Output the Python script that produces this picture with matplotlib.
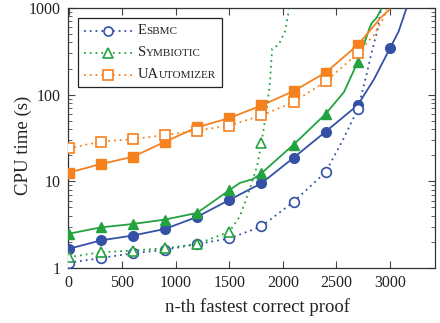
import matplotlib
matplotlib.use('Agg')
import matplotlib.pyplot as plt
from matplotlib.lines import Line2D
from matplotlib.ticker import LogLocator, NullFormatter
from matplotlib.offsetbox import AnchoredOffsetbox, HPacker, VPacker, TextArea, DrawingArea

plt.rcParams['font.family'] = ['Liberation Serif', 'DejaVu Serif']

# values (x = n-th proof, y = CPU time in s)
esbmc_x = [0, 300, 600, 900, 1200, 1500, 1800, 2100, 2400, 2700, 2850, 3000, 3080, 3150]
esbmc_y = [1.66, 2.08, 2.37, 2.82, 3.89, 6.1, 9.5, 18.7, 37.5, 76, 150, 343, 535, 960]
esbmc_dot_x = [0, 300, 600, 900, 1200, 1500, 1800, 2100, 2400, 2560, 2700, 2780, 2830, 2880, 2915]
esbmc_dot_y = [1.15, 1.30, 1.48, 1.62, 1.89, 2.19, 3.02, 5.8, 12.8, 30, 68, 168, 313, 535, 960]

symb_x = [0, 300, 600, 900, 1200, 1500, 1600, 1720, 1800, 2100, 2400, 2570, 2700, 2810, 2830, 2875, 2915]
symb_y = [2.48, 2.94, 3.22, 3.62, 4.32, 7.9, 9.6, 10.6, 12.4, 26.5, 60, 107, 240, 590, 670, 770, 960]
symb_dot_x = [0, 300, 600, 900, 1200, 1500, 1600, 1700, 1760, 1800, 1850, 1880, 1900, 1960, 2020, 2058]
symb_dot_y = [1.33, 1.52, 1.59, 1.69, 1.89, 2.62, 3.95, 8.8, 15, 27.8, 68, 140, 340, 375, 535, 960]

uauto_x = [0, 300, 600, 900, 1200, 1500, 1800, 2100, 2400, 2700, 2780, 2910, 2995]
uauto_y = [12.6, 15.8, 19.2, 28.6, 42, 53.7, 75, 110, 180, 375, 490, 765, 960]
uauto_dot_x = [0, 300, 600, 900, 1200, 1500, 1800, 2100, 2400, 2700, 2850, 2940, 2965]
uauto_dot_y = [24, 28.7, 30.7, 34.2, 38.5, 44, 57.5, 82, 142, 300, 490, 765, 960]

x_ticks = [0, 500, 1000, 1500, 2000, 2500, 3000]
y_ticks = [1, 10, 100, 1000]
y_labels = ['1', '10', '100', '1000']

blue = '#3451a6'
green = '#22a33f'
orange = '#f5821f'
dots = (0, (1, 2.2))

series = [
    (esbmc_x, esbmc_y, esbmc_dot_x, esbmc_dot_y, blue, 'o', 7, 7),
    (symb_x, symb_y, symb_dot_x, symb_dot_y, green, '^', 7.5, 7),
    (uauto_x, uauto_y, uauto_dot_x, uauto_dot_y, orange, 's', 7, 6.5),
]


def marks(xs):
    # markers only sit on every 300th proof
    return [i for i, v in enumerate(xs) if v % 300 == 0]


fig = plt.figure(figsize=(4.4, 3.23), dpi=100)
ax = fig.add_axes([68 / 440, 55 / 323, (435 - 68) / 440, (268 - 8) / 323])

for sx, sy, dx, dy, col, mk, ms_f, ms_o in series:
    ax.plot(sx, sy, color=col, lw=1.3, marker=mk, ms=ms_f,
            markevery=marks(sx), zorder=3)
    ax.plot(dx, dy, color=col, lw=1.3, ls=dots, marker=mk, ms=ms_o,
            mfc='white', mec=col, mew=1.2, markevery=marks(dx), zorder=3)

ax.set_yscale('log')
ax.set_ylim(1, 1000)
ax.set_xlim(-5, 3420)
ax.set_xticks(x_ticks)
ax.set_yticks(y_ticks)
ax.set_yticklabels(y_labels)
ax.yaxis.set_minor_locator(LogLocator(base=10, subs=range(2, 10)))
ax.yaxis.set_minor_formatter(NullFormatter())
ax.tick_params(which='both', direction='in', top=True, right=True,
               labelsize=11.5, colors='#444444', labelcolor='#222222')
ax.tick_params(which='major', length=5, width=0.8, pad=5)
ax.tick_params(which='minor', length=3, width=0.6)
for sp in ax.spines.values():
    sp.set_color('#333333')
    sp.set_linewidth(0.9)

ax.set_xlabel('n-th fastest correct proof', fontsize=13.5, color='#222222')
ax.set_ylabel('CPU time (s)', fontsize=13.5, color='#222222')
ax.xaxis.set_label_coords(0.515, -0.115)
ax.yaxis.set_label_coords(-0.097, 0.47)

# legend with small caps labels
names = [
    (blue, 'o', [('E', 10.5), ('SBMC', 8)]),
    (green, '^', [('S', 10.5), ('YMBIOTIC', 8)]),
    (orange, 's', [('UA', 10.5), ('UTOMIZER', 8)]),
]
rows = []
for col, mk, pieces in names:
    da = DrawingArea(35, 10, 0, 0)
    da.add_artist(Line2D([0, 35], [5, 5], color=col, lw=1.3, ls=dots))
    da.add_artist(Line2D([17.5], [5], marker=mk, ms=6.5, mfc='white', mec=col, mew=1.2))
    texts = [TextArea(t, textprops=dict(fontsize=s, color='#222222')) for t, s in pieces]
    label = HPacker(children=texts, align='baseline', pad=0, sep=0)
    rows.append(HPacker(children=[da, label], align='center', pad=0, sep=4))
box = VPacker(children=rows, align='left', pad=0, sep=6)
leg = AnchoredOffsetbox(loc='upper left', child=box, pad=0.4, borderpad=0,
                        frameon=True, bbox_to_anchor=(78 / 440, 1 - 18 / 323),
                        bbox_transform=fig.transFigure)
leg.patch.set_edgecolor('#222222')
leg.patch.set_linewidth(0.9)
leg.patch.set_boxstyle('square', pad=0)
ax.add_artist(leg)

fig.savefig('out.png', dpi=100)
